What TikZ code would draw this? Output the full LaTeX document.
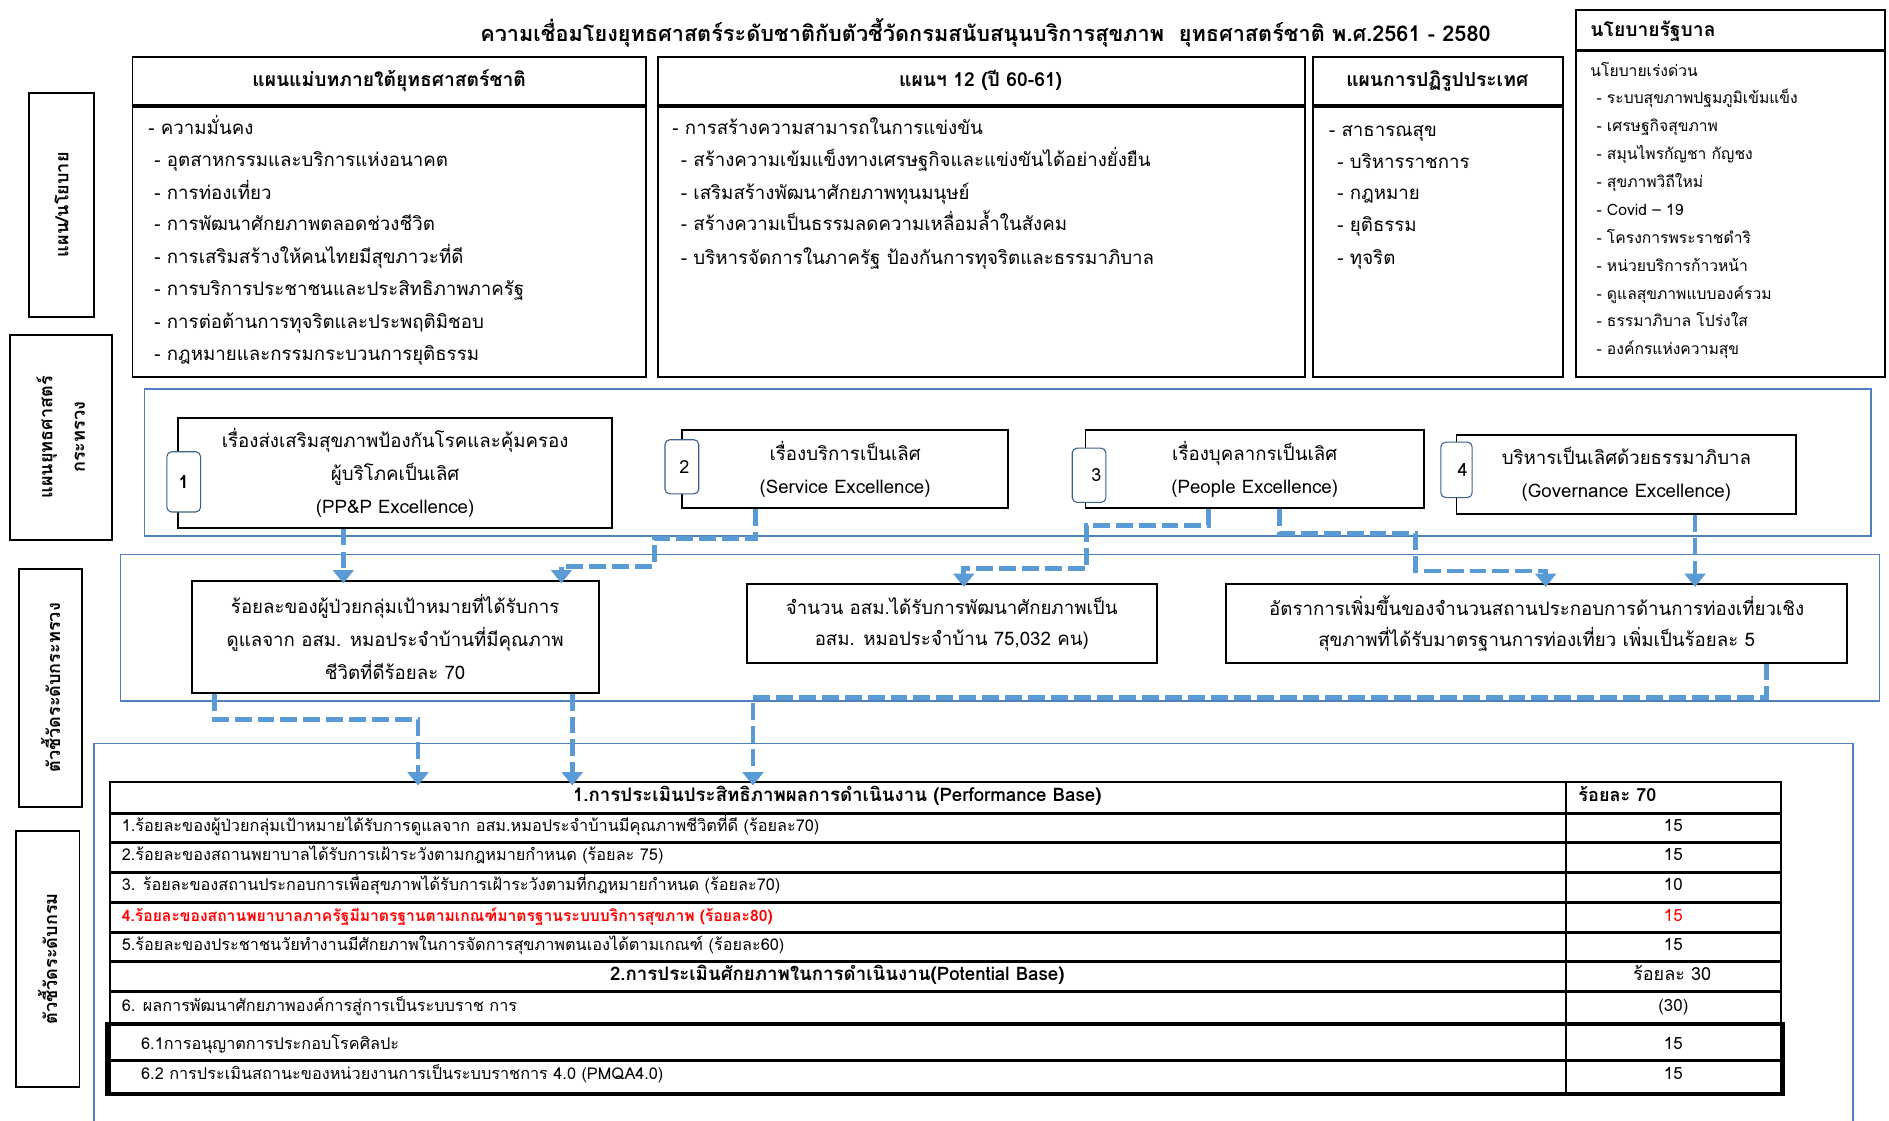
\documentclass[tikz,border=0pt]{standalone}
\usepackage{fontspec}
\setmainfont[Script=Thai]{Loma}
\usetikzlibrary{arrows.meta}
\definecolor{flowblue}{RGB}{91,155,213}
\definecolor{panelblue}{RGB}{79,129,189}
\definecolor{tabline}{RGB}{60,96,140}
\definecolor{alertred}{RGB}{255,0,0}

\begin{document}
\begin{tikzpicture}[x=1pt, y=-1pt,
    planbox/.style={draw=black, line width=1.6pt},
    headrule/.style={draw=black, line width=2.6pt},
    panel/.style={draw=panelblue, line width=1.1pt},
    sidebox/.style={draw=black, line width=1.6pt, rotate=90, align=center, inner sep=0pt, font=\bfseries\fontsize{15}{27}\selectfont},
    headtext/.style={inner sep=0pt, text height=11pt, text depth=4pt, font=\bfseries\fontsize{16}{19}\selectfont},
    item/.style={anchor=west, inner sep=0pt, text height=11pt, text depth=4pt, font=\fontsize{15.5}{18}\selectfont},
    subitem/.style={anchor=west, inner sep=0pt, text height=10pt, text depth=3.5pt, font=\fontsize{13}{15}\selectfont},
    goalbox/.style={draw=black, line width=1.6pt, fill=white, align=center, inner sep=0pt, font=\fontsize{15.5}{27.5}\selectfont},
    tabbox/.style={draw=tabline, fill=white, rounded corners=4pt, line width=0.9pt, inner sep=0pt, minimum width=28pt, font=\fontsize{15}{18}\selectfont},
    flow/.style={draw=flowblue, line width=4pt, dash pattern=on 14pt off 5pt, shorten >=-3pt, -{Triangle[width=17pt,length=11pt]}},
    tablerule/.style={draw=black, line width=2.4pt},
    cell/.style={anchor=west, inner sep=0pt, text height=9.5pt, text depth=3.5pt, font=\fontsize{13.5}{15}\selectfont},
    score/.style={inner sep=0pt, text height=9.5pt, text depth=3.5pt, font=\fontsize{14}{15}\selectfont}
  ]
  \useasboundingbox[fill=white] (0,0) rectangle (1568,930.5);

  %% title
  \node[inner sep=0pt, font=\bfseries\fontsize{18}{20}\selectfont] (title) at (818,27) {ความเชื่อมโยงยุทธศาสตร์ระดับชาติกับตัวชี้วัดกรมสนับสนุนบริการสุขภาพ\ \ ยุทธศาสตร์ชาติ พ.ศ.2561 - 2580};

  %% side labels
  \node[sidebox, minimum width=186, minimum height=54] (lplan) at (51,170) {แผน/นโยบาย};
  \node[sidebox, minimum width=170, minimum height=85] (lstrat) at (50.5,363) {แผนยุทธศาสตร์\\กระทรวง};
  \node[sidebox, minimum width=198, minimum height=52] (lmin) at (42,571) {ตัวชี้วัดระดับกระทรวง};
  \node[sidebox, minimum width=212, minimum height=53] (ldept) at (39.5,796) {ตัวชี้วัดระดับกรม};

  %% plan boxes
  \draw[planbox] (110,47) rectangle (536,313); % master plan
  \draw[headrule] (110,88) -- (536,88);
  \draw[planbox] (546,47) rectangle (1083,313); % plan 12
  \draw[headrule] (546,88) -- (1083,88);
  \draw[planbox] (1090,47) rectangle (1297,313); % reform
  \draw[headrule] (1090,88) -- (1297,88);
  \draw[planbox] (1308,8) rectangle (1565,313); % government
  \draw[headrule] (1308,42) -- (1565,42);

  \node[headtext] (hmaster) at (323,68) {แผนแม่บทภายใต้ยุทธศาสตร์ชาติ};
  \node[headtext] (hplan) at (814,68) {แผนฯ 12 (ปี 60-61)};
  \node[headtext] (hreform) at (1193,68) {แผนการปฏิรูปประเทศ};
  \node[headtext, anchor=west] (hgov) at (1320,27) {นโยบายรัฐบาล};

  % master plan items
  \node[item] (m0) at (123,108) {- ความมั่นคง};
  \node[item] (m1) at (128,135) {- อุตสาหกรรมและบริการแห่งอนาคต};
  \node[item] (m2) at (128,162) {- การท่องเที่ยว};
  \node[item] (m3) at (128,188) {- การพัฒนาศักยภาพตลอดช่วงชีวิต};
  \node[item] (m4) at (128,215) {- การเสริมสร้างให้คนไทยมีสุขภาวะที่ดี};
  \node[item] (m5) at (128,242) {- การบริการประชาชนและประสิทธิภาพภาครัฐ};
  \node[item] (m6) at (128,269) {- การต่อต้านการทุจริตและประพฤติมิชอบ};
  \node[item] (m7) at (128,296) {- กฎหมายและกรรมกระบวนการยุติธรรม};

  % plan 12 items
  \node[item] (p0) at (558,108) {- การสร้างความสามารถในการแข่งขัน};
  \node[item] (p1) at (565,135) {- สร้างความเข้มแข็งทางเศรษฐกิจและแข่งขันได้อย่างยั่งยืน};
  \node[item] (p2) at (565,162) {- เสริมสร้างพัฒนาศักยภาพทุนมนุษย์};
  \node[item] (p3) at (565,188) {- สร้างความเป็นธรรมลดความเหลื่อมล้ำในสังคม};
  \node[item] (p4) at (565,216) {- บริหารจัดการในภาครัฐ ป้องกันการทุจริตและธรรมาภิบาล};

  % reform items
  \node[item] (r0) at (1103,110) {- สาธารณสุข};
  \node[item] (r1) at (1110,136) {- บริหารราชการ};
  \node[item] (r2) at (1110,162) {- กฎหมาย};
  \node[item] (r3) at (1110,189) {- ยุติธรรม};
  \node[item] (r4) at (1110,216) {- ทุจริต};

  % government items
  \node[subitem] (g0) at (1320,60) {นโยบายเร่งด่วน};
  \node[subitem] (g1) at (1325,83) {- ระบบสุขภาพปฐมภูมิเข้มแข็ง};
  \node[subitem] (g2) at (1325,106) {- เศรษฐกิจสุขภาพ};
  \node[subitem] (g3) at (1325,129) {- สมุนไพรกัญชา กัญชง};
  \node[subitem] (g4) at (1325,152) {- สุขภาพวิถีใหม่};
  \node[subitem] (g5) at (1325,176) {- Covid – 19};
  \node[subitem] (g6) at (1325,199) {- โครงการพระราชดำริ};
  \node[subitem] (g7) at (1325,222) {- หน่วยบริการก้าวหน้า};
  \node[subitem] (g8) at (1325,245) {- ดูแลสุขภาพแบบองค์รวม};
  \node[subitem] (g9) at (1325,268) {- ธรรมาภิบาล โปร่งใส};
  \node[subitem] (g10) at (1325,291) {- องค์กรแห่งความสุข};

  %% blue panels
  \draw[panel] (120,323) rectangle (1553,445);
  \draw[panel] (100,460) rectangle (1560,582);
  \draw[panel] (78,617) rectangle (1538,945);

  %% ministry strategies
  \node[goalbox, minimum width=360, minimum height=91] (s1) at (328,392.5) {เรื่องส่งเสริมสุขภาพป้องกันโรคและคุ้มครอง\\ผู้บริโภคเป็นเลิศ\\(PP\&P Excellence)};
  \node[goalbox, minimum width=271, minimum height=65] (s2) at (701.5,389.5) {เรื่องบริการเป็นเลิศ\\(Service Excellence)};
  \node[goalbox, minimum width=281, minimum height=65] (s3) at (1041.5,389.5) {เรื่องบุคลากรเป็นเลิศ\\(People Excellence)};
  \node[goalbox, minimum width=282, minimum height=66] (s4) at (1350,394) {บริหารเป็นเลิศด้วยธรรมาภิบาล\\(Governance Excellence)};
  \node[tabbox, minimum height=50, font=\bfseries\fontsize{15}{18}\selectfont] (t1) at (152.5,400) {1};
  \node[tabbox, minimum height=45] (t2) at (566,387.5) {\hspace*{4pt}2};
  \node[tabbox, minimum height=45] (t3) at (904,394.5) {\hspace*{12pt}3};
  \node[tabbox, minimum height=46, minimum width=26pt] (t4) at (1209,390) {\hspace*{10pt}4};

  %% ministry indicators
  \node[goalbox, minimum width=338, minimum height=93] (k1) at (328,528.5) {ร้อยละของผู้ป่วยกลุ่มเป้าหมายที่ได้รับการ\\ดูแลจาก อสม. หมอประจำบ้านที่มีคุณภาพ\\ชีวิตที่ดีร้อยละ 70};
  \node[goalbox, minimum width=340, minimum height=65, font=\fontsize{15.5}{26}\selectfont] (k2) at (790,517.5) {จำนวน อสม.ได้รับการพัฒนาศักยภาพเป็น\\อสม. หมอประจำบ้าน 75,032 คน)};
  \node[goalbox, minimum width=515, minimum height=65, font=\fontsize{15.5}{26}\selectfont] (k3) at (1275.5,517.5) {อัตราการเพิ่มขึ้นของจำนวนสถานประกอบการด้านการท่องเที่ยวเชิง\\สุขภาพที่ได้รับมาตรฐานการท่องเที่ยว เพิ่มเป็นร้อยละ 5};

  %% department indicator table
  \coordinate (tabletop) at (91,649);
  \draw[planbox] (91,649) rectangle (1478,908);
  \foreach \y in {675,699,724,749,774,798,823,850,880}
    \draw[tablerule] (91,\y) -- (1478,\y);
  \draw[planbox] (1300,649) -- (1300,908);
  \draw[draw=black, line width=3pt] (89,850) rectangle (1480,908);

  \node[inner sep=0pt, text height=10.5pt, text depth=4pt, font=\bfseries\fontsize{15.5}{16}\selectfont] (perfhead) at (695,662) {1.การประเมินประสิทธิภาพผลการดำเนินงาน (Performance Base)};
  \node[anchor=west, inner sep=0pt, text height=10.5pt, text depth=4pt, font=\bfseries\fontsize{15}{16}\selectfont] (perfval) at (1310,662) {ร้อยละ 70};
  \node[cell] (c1) at (101,687) {1.ร้อยละของผู้ป่วยกลุ่มเป้าหมายได้รับการดูแลจาก อสม.หมอประจำบ้านมีคุณภาพชีวิตที่ดี (ร้อยละ70)};
  \node[cell] (c2) at (101,711.5) {2.ร้อยละของสถานพยาบาลได้รับการเฝ้าระวังตามกฎหมายกำหนด (ร้อยละ 75)};
  \node[cell] (c3) at (101,736.5) {3. ร้อยละของสถานประกอบการเพื่อสุขภาพได้รับการเฝ้าระวังตามที่กฎหมายกำหนด (ร้อยละ70)};
  \node[cell, text=alertred, font=\bfseries\fontsize{13}{15}\selectfont] (c4) at (101,761.5) {4.ร้อยละของสถานพยาบาลภาครัฐมีมาตรฐานตามเกณฑ์มาตรฐานระบบบริการสุขภาพ (ร้อยละ80)};
  \node[cell] (c5) at (101,786) {5.ร้อยละของประชาชนวัยทำงานมีศักยภาพในการจัดการสุขภาพตนเองได้ตามเกณฑ์ (ร้อยละ60)};
  \node[inner sep=0pt, text height=10.5pt, text depth=4pt, font=\bfseries\fontsize{15.5}{16}\selectfont] (pothead) at (695,810.5) {2.การประเมินศักยภาพในการดำเนินงาน(Potential Base)};
  \node[score, font=\fontsize{15}{16}\selectfont] (potval) at (1388,810.5) {ร้อยละ 30};
  \node[cell] (c6) at (101,836.5) {6. ผลการพัฒนาศักยภาพองค์การสู่การเป็นระบบราช การ};
  \node[cell] (c61) at (117,868) {6.1การอนุญาตการประกอบโรคศิลปะ};
  \node[cell] (c62) at (117,893) {6.2 การประเมินสถานะของหน่วยงานการเป็นระบบราชการ 4.0 (PMQA4.0)};

  \node[score] (v1) at (1389,687) {15};
  \node[score] (v2) at (1389,711.5) {15};
  \node[score] (v3) at (1389,736.5) {10};
  \node[score, text=alertred] (v4) at (1389,761.5) {15};
  \node[score] (v5) at (1389,786) {15};
  \node[score] (v6) at (1389,836.5) {(30)};
  \node[score] (v61) at (1389,868) {15};
  \node[score] (v62) at (1389,893) {15};

  %% flows strategy -> indicator
  \draw[flow] (285,0 |- s1.south) -- (285,0 |- k1.north);
  \draw[flow] (627,0 |- s2.south) -- (627,447) -- (543,447) -- (543,470) -- (466,470) -- (466,0 |- k1.north);
  \draw[flow] (1003,0 |- s3.south) -- (1003,436) -- (902,436) -- (902,472) -- (800,472) -- (800,0 |- k2.north);
  \draw[flow] (1062,0 |- s3.south) -- (1062,443) -- (1175,443) -- (1175,474) -- (1283,474) -- (1283,0 |- k3.north);
  \draw[flow] (1407,0 |- s4.south) -- (1407,0 |- k3.north);

  %% flows indicator -> table
  \draw[flow] (178,0 |- k1.south) -- (178,597) -- (347,597) -- (347,0 |- tabletop);
  \draw[flow] (475,0 |- k1.south) -- (475,0 |- tabletop);
  \draw[flow] (1466,0 |- k3.south) -- (1466,579) -- (625,579) -- (625,0 |- tabletop);
\end{tikzpicture}
\end{document}
